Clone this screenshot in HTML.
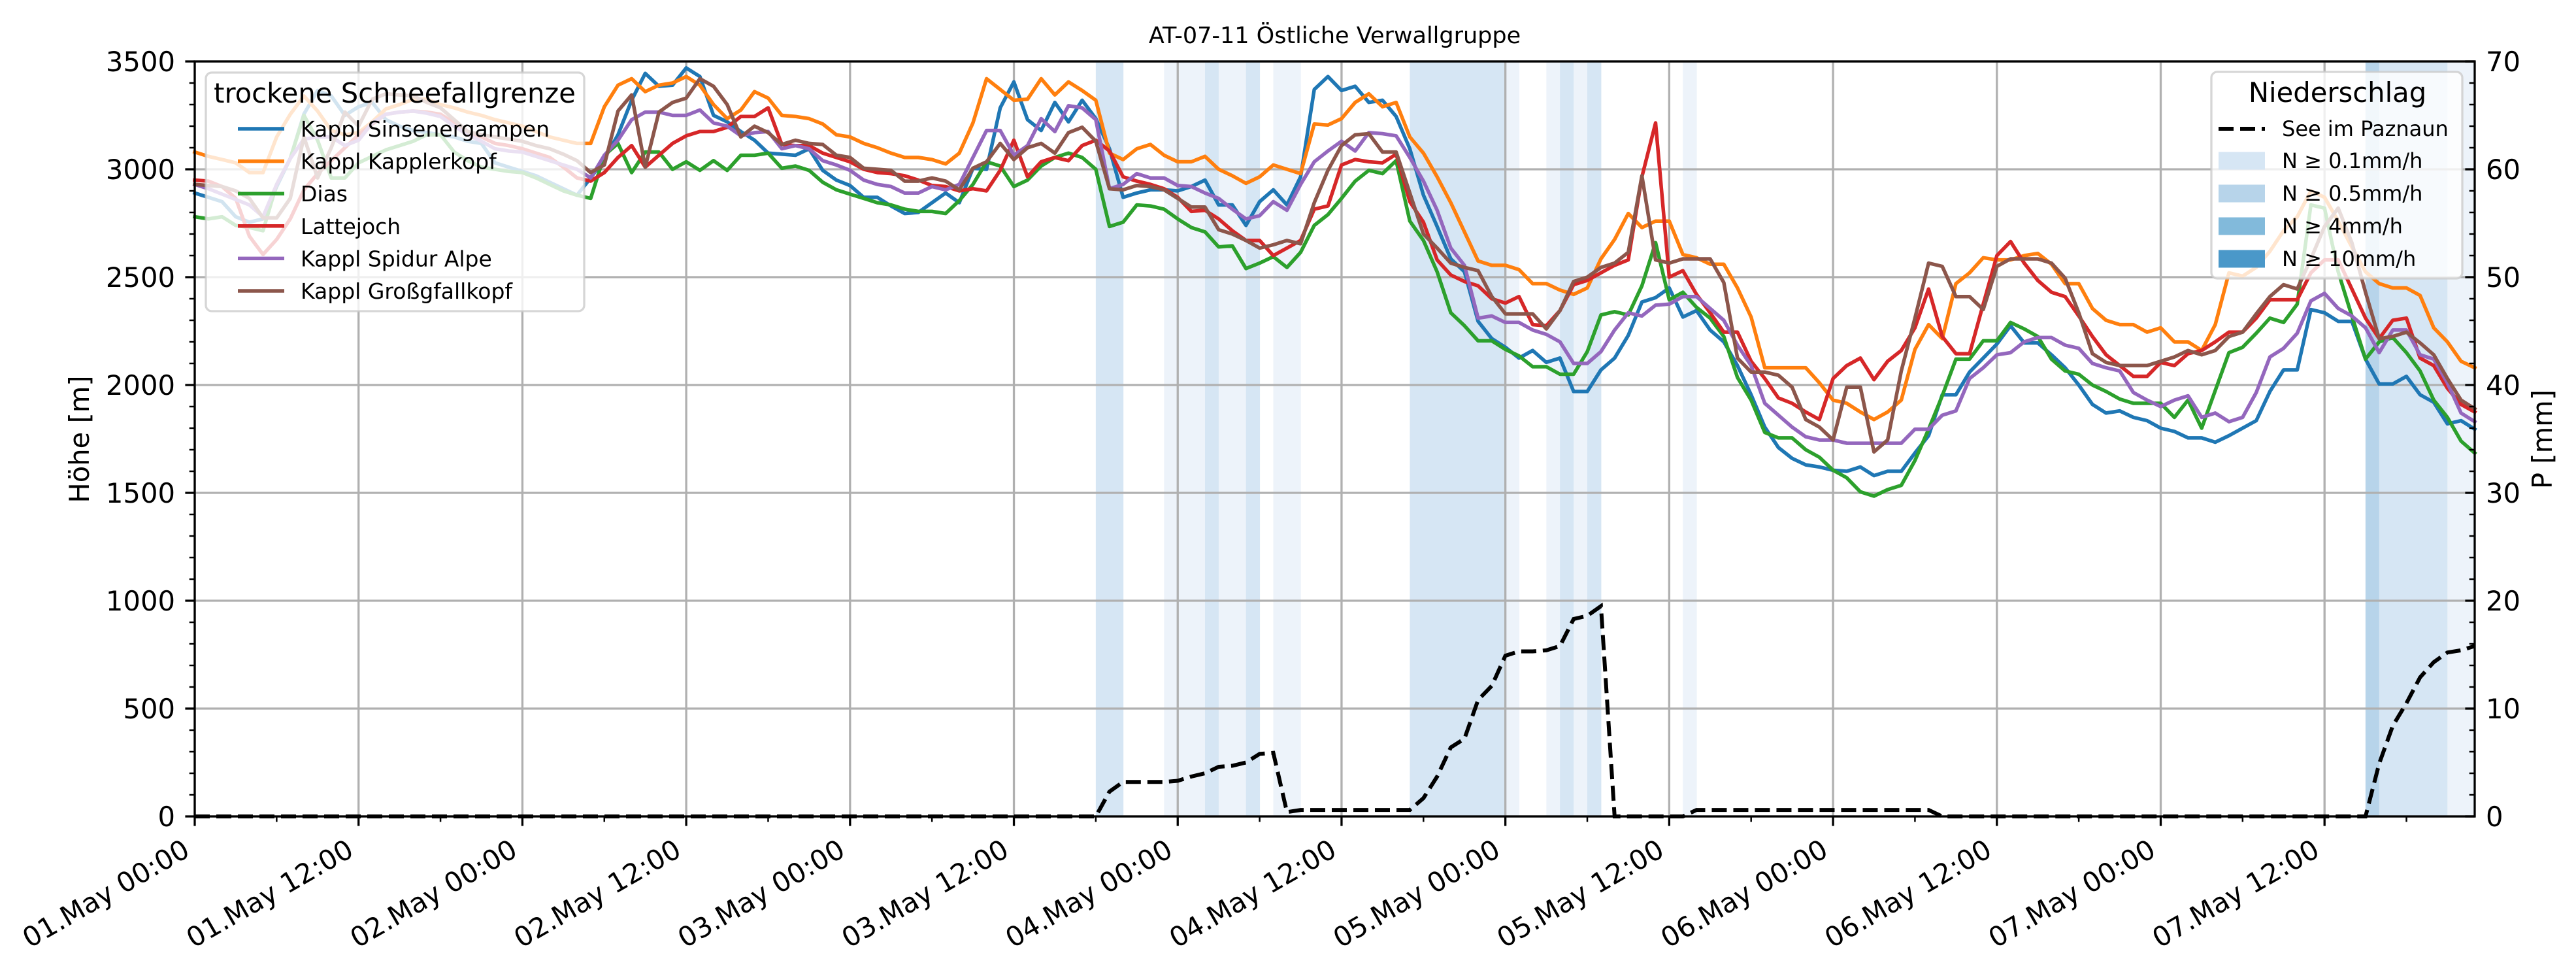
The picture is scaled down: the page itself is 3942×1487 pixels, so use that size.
<!DOCTYPE html>
<html><head><meta charset="utf-8"><title>AT-07-11 Östliche Verwallgruppe</title>
<style>html,body{margin:0;padding:0;background:#fff}svg{display:block}text{font-family:"DejaVu Sans","Liberation Sans",sans-serif;fill:#000}</style>
</head><body>
<svg id="chart" xmlns="http://www.w3.org/2000/svg" width="3942" height="1487" viewBox="0 0 3942 1487">
<rect x="0" y="0" width="3942" height="1487" fill="#fff"/>
<g id="bars"></g>
<g id="grid"></g>
<g id="lines"></g>
<g id="axes"></g>
<g id="legends"></g>
</svg>
<script>
const categoriesHours = 168;
const xTickLabels = ["01.May 00:00","01.May 12:00","02.May 00:00","02.May 12:00","03.May 00:00","03.May 12:00","04.May 00:00","04.May 12:00","05.May 00:00","05.May 12:00","06.May 00:00","06.May 12:00","07.May 00:00","07.May 12:00"];
const yTicksLeft = [0,500,1000,1500,2000,2500,3000,3500];
const yTicksRight = [0,10,20,30,40,50,60,70];
const seriesNames = ["Kappl Sinsenergampen","Kappl Kapplerkopf","Dias","Lattejoch","Kappl Spidur Alpe","Kappl Großgfallkopf"];
const sinsenergampen = [2890,2870,2850,2780,2755,2770,2920,3050,3256,3365,3340,3250,3290,3310,3230,3200,3180,3170,3160,3150,3130,3120,3030,3010,2990,2970,2940,2910,2880,2960,3050,3160,3320,3445,3385,3390,
3470,3430,3250,3220,3175,3135,3075,3070,3065,3095,2995,2950,2925,2870,2870,2830,2795,2800,2845,2890,2845,3005,3000,3285,3405,3230,3180,3310,3220,3320,3235,3095,2870,2890,2905,2905,2900,
2920,2950,2835,2835,2740,2850,2905,2835,2965,3370,3430,3365,3385,3310,3320,3245,3095,2880,2735,2585,2525,2295,2215,2175,2125,2160,2105,2125,1970,1970,2070,2125,2230,2385,2405,2450,
2315,2345,2255,2200,2090,1955,1805,1710,1660,1630,1620,1605,1600,1620,1580,1600,1600,1685,1765,1955,1955,2060,2125,
2190,2275,2195,2195,2140,2080,2000,1910,1870,1880,1850,1835,1800,1785,1755,1755,1735,1765,1800,1835,1970,2070,2070,2350,2335,2295,2295,2120,2005,2005,2040,1955,1920,1820,1835,1795];
const kapplerkopf = [3080,3060,3045,3030,2985,2985,3150,3255,3340,3270,3180,3160,3170,3220,3280,3300,3325,3325,3300,3285,3265,3250,3230,3215,3200,3175,3150,3135,3120,3120,3290,3390,3420,3360,3390,3400,
3430,3390,3300,3235,3275,3360,3330,3250,3245,3235,3210,3160,3150,3120,3100,3075,3055,3055,3045,3025,3075,3215,3420,3370,3320,3325,3420,3345,3405,3365,3320,3075,3045,3095,3115,3065,3035,
3035,3060,3000,2970,2935,2965,3020,3000,2980,3210,3205,3235,3310,3350,3290,3310,3150,3075,2965,2845,2710,2575,2555,2555,2535,2470,2470,2440,2420,2450,2585,2675,2795,2730,2760,2760,
2605,2590,2560,2560,2450,2315,2080,2080,2080,2080,2010,1930,1915,1875,1840,1875,1930,2165,2280,2215,2470,2520,2590,
2580,2580,2600,2610,2560,2470,2470,2355,2300,2280,2280,2245,2265,2200,2200,2160,2280,2520,2505,2545,2620,2715,2780,2900,2870,2760,2640,2525,2470,2450,2450,2415,2265,2200,2110,2080];
const dias = [2780,2770,2780,2740,2730,2715,2930,3050,3250,3135,2960,2960,3030,3060,3090,3110,3130,3160,3160,3080,3040,3010,3000,2990,2985,2960,2930,2900,2880,2865,3065,3120,2985,3080,3080,3000,
3035,2995,3040,2995,3065,3065,3075,3005,3015,2995,2940,2905,2885,2865,2845,2835,2815,2805,2805,2795,2855,2930,3035,3015,2920,2950,3015,3055,3075,3055,3000,2735,2755,2835,2830,2815,2770,
2730,2710,2640,2645,2540,2565,2595,2545,2615,2740,2790,2865,2945,2995,2980,3040,2760,2670,2525,2335,2275,2205,2205,2165,2135,2085,2085,2050,2050,2155,2325,2340,2325,2460,2660,2395,
2430,2360,2310,2225,2035,1930,1780,1755,1755,1700,1665,1605,1570,1505,1485,1515,1535,1650,1795,1950,2120,2120,2205,
2205,2290,2260,2225,2120,2065,2050,2000,1970,1935,1915,1915,1915,1850,1930,1800,1975,2150,2175,2240,2310,2290,2375,2835,2820,2525,2320,2120,2200,2220,2150,2065,1930,1850,1740,1685];
const lattejoch = [2950,2945,2920,2865,2690,2605,2675,2770,2905,2980,3040,3100,3160,3210,3255,3265,3270,3265,3255,3215,3175,3150,3120,3110,3095,3075,3055,3010,2960,2945,2985,3055,3110,3010,3065,3120,
3155,3175,3175,3195,3245,3245,3285,3115,3110,3110,3075,3055,3035,3000,2985,2980,2970,2950,2925,2920,2900,2910,2900,2995,3135,2965,3035,3055,3040,3110,3135,3085,2965,2945,2930,2910,2870,
2805,2810,2770,2715,2670,2670,2600,2635,2670,2815,2830,3020,3045,3035,3030,3070,2850,2755,2580,2510,2480,2460,2400,2380,2410,2280,2275,2345,2465,2485,2520,2555,2580,2965,3215,2500,
2530,2420,2335,2245,2245,2110,2030,1940,1915,1875,1840,2030,2090,2125,2025,2110,2160,2265,2445,2225,2145,2145,2375,
2600,2665,2565,2485,2430,2410,2320,2225,2140,2090,2040,2040,2105,2090,2145,2160,2200,2245,2245,2310,2395,2395,2395,2520,2580,2580,2445,2310,2215,2300,2310,2125,2090,1985,1910,1875];
const spidurAlpe = [2930,2910,2885,2860,2835,2780,2930,3050,3140,3150,3150,3110,3135,3215,3255,3265,3270,3260,3245,3200,3160,3130,3095,3085,3080,3060,3040,3020,3000,2960,3065,3135,3230,3265,3265,3250,
3250,3275,3215,3200,3155,3170,3175,3095,3110,3095,3040,3020,2995,2950,2930,2920,2890,2890,2920,2905,2930,3055,3180,3180,3065,3110,3235,3175,3295,3285,3230,2910,2930,2980,2960,2960,2925,
2920,2890,2865,2815,2770,2785,2850,2810,2930,3035,3085,3130,3085,3170,3165,3155,3055,2945,2810,2635,2555,2310,2320,2290,2290,2255,2235,2200,2100,2100,2155,2255,2335,2320,2370,2375,
2410,2410,2355,2300,2185,2090,1915,1860,1805,1760,1745,1745,1730,1730,1730,1730,1730,1795,1795,1860,1880,2030,2080,
2140,2150,2200,2220,2220,2185,2170,2100,2080,2065,1965,1930,1900,1930,1950,1850,1870,1830,1850,1965,2130,2170,2240,2390,2425,2355,2320,2265,2150,2255,2255,2140,2120,2010,1870,1830];
const grossgfallkopf = [2930,2925,2920,2900,2865,2775,2775,2865,3150,2960,3100,3265,3200,3325,3350,3345,3340,3310,3285,3230,3175,3160,3150,3140,3130,3110,3095,3070,3040,2985,3020,3270,3345,3010,3265,3310,
3330,3420,3385,3300,3150,3200,3170,3115,3135,3120,3115,3065,3055,3005,3000,2995,2945,2945,2960,2945,2905,3005,3035,3120,3045,3100,3120,3075,3170,3195,3130,2910,2905,2925,2920,2905,2865,
2825,2825,2720,2700,2670,2635,2650,2670,2655,2845,2995,3110,3160,3165,3080,3080,2890,2700,2635,2565,2545,2530,2410,2330,2330,2330,2260,2345,2480,2500,2545,2565,2615,2970,2580,2565,
2585,2585,2585,2475,2125,2060,2060,2045,1990,1840,1805,1745,1990,1990,1690,1745,2065,2310,2565,2550,2410,2410,2350,
2550,2585,2585,2585,2565,2495,2335,2145,2105,2090,2090,2090,2110,2130,2160,2140,2160,2225,2245,2330,2410,2465,2445,2585,2735,2820,2660,2430,2215,2225,2245,2195,2140,2030,1930,1890];
const precipSum = [0,0,0,0,0,0,0,0,0,0,0,0,0,0,0,0,0,0,0,0,0,0,0,0,0,0,0,0,0,0,0,0,0,0,0,0,0,0,0,0,0,0,0,0,0,0,0,0,0,0,0,0,0,0,0,0,0,0,0,0,0,0,0,0,0,0,0,
2.3,3.2,3.2,3.2,3.2,3.3,3.7,4.0,4.6,4.7,5.0,5.8,5.9,0.4,0.6,0.6,0.6,0.6,0.6,0.6,0.6,0.6,0.6,1.7,3.7,6.4,7.2,10.8,12.1,14.9,15.3,15.3,15.4,15.8,18.3,18.6,19.5,
0,0,0,0,0,0,0.6,0.6,0.6,0.6,0.6,0.6,0.6,0.6,0.6,0.6,0.6,0.6,0.6,0.6,0.6,0.6,0.6,0.6,
0,0,0,0,0,0,0,0,0,0,0,0,0,0,0,0,0,0,0,0,0,0,0,0,0,0,0,0,0,0,0,0,
4.9,8.4,10.5,12.9,14.3,15.2,15.4,15.8];
const precipRate = [0,0,0,0,0,0,0,0,0,0,0,0,0,0,0,0,0,0,0,0,0,0,0,0,0,0,0,0,0,0,0,0,0,0,0,0,0,0,0,0,0,0,0,0,0,0,0,0,0,0,0,0,0,0,0,0,0,0,0,0,0,0,0,0,0,0,
0.3,0.3,0,0,0,0.05,0.05,0.05,0.3,0.05,0.05,0.3,0,0.05,0.05,0,0,0,0,0,0,0,0,
0.3,0.3,0.3,0.3,0.3,0.3,0.3,0.05,0,0,0.05,0.3,0.05,0.3,0,0,0,0,0,0,0.05,
0,0,0,0,0,0,0,0,0,0,0,0,0,0,0,0,0,0,0,0,0,0,0,0,0,0,0,0,0,0,0,0,0,0,0,0,0,0,0,0,0,0,0,0,0,0,0,0,0,
1.0,0.3,0.3,0.3,0.3,0.3,0.05,0.05,0.05];
const rateThresholds = [0.1,0.5,4,10];
const rateLabels = ["N ≥ 0.1mm/h","N ≥ 0.5mm/h","N ≥ 4mm/h","N ≥ 10mm/h"];

const NS="http://www.w3.org/2000/svg";
const L=298,R=3787,T=94,B=1249;
const xs=h=>L+h*(R-L)/(categoriesHours-1);
const yL=m=>B-m*(B-T)/3500;
const yR=p=>B-p*(B-T)/70;
const colors=["#1f77b4","#ff7f0e","#2ca02c","#d62728","#9467bd","#8c564b"];
const rateColors=["#d6e6f4","#b7d4ea","#82badb","#4a98c9"];
function mk(tag,attrs,parent){const e=document.createElementNS(NS,tag);for(const k in attrs)e.setAttribute(k,attrs[k]);parent.appendChild(e);return e;}
function rateColor(r){let c="#edf3fa";for(let i=0;i<rateThresholds.length;i++)if(r>=rateThresholds[i])c=rateColors[i];return c;}

const gB=document.getElementById('bars'),gG=document.getElementById('grid'),gLn=document.getElementById('lines'),gA=document.getElementById('axes'),gLg=document.getElementById('legends');

// precipitation bands
precipRate.forEach((r,i)=>{
  if(r<=0)return;
  const x0=xs(i),x1=Math.min(xs(i+1),R);
  const el=mk('rect',{x:x0,y:T,width:Math.max(0,x1-x0)+0.5,height:B-T,fill:rateColor(r)},gB);
  
  
});

// grid
xTickLabels.forEach((lab,i)=>{const x=xs(i*12);const el=mk('line',{x1:x,x2:x,y1:T,y2:B,stroke:'#b0b0b0','stroke-width':3.3},gG);
  });
yTicksLeft.forEach(v=>{const y=yL(v);const el=mk('line',{x1:L,x2:R,y1:y,y2:y,stroke:'#b0b0b0','stroke-width':3.3},gG);
  });

// series
const allSeries=[sinsenergampen,kapplerkopf,dias,lattejoch,spidurAlpe,grossgfallkopf];
allSeries.forEach((s,k)=>{
  const d=s.map((v,i)=>(i?'L':'M')+xs(i).toFixed(1)+','+yL(v).toFixed(1)).join(' ');
  const el=mk('path',{d:d,fill:'none',stroke:colors[k],'stroke-width':5.5,'stroke-linejoin':'round','stroke-linecap':'square'},gLn);
  
  
});
{
  const d=precipSum.map((v,i)=>(i?'L':'M')+xs(i).toFixed(1)+','+yR(v).toFixed(1)).join(' ');
  const el=mk('path',{d:d,fill:'none',stroke:'#000','stroke-width':6,'stroke-dasharray':'23 10'},gLn);
  
  
}

// axes spines
const sp=mk('rect',{x:L,y:T,width:R-L,height:B-T,fill:'none',stroke:'#000','stroke-width':3.3},gA);


// x ticks
for(let h=0;h<categoriesHours;h+=6){const x=xs(h);const major=h%12===0;
  const el=mk('line',{x1:x,x2:x,y1:B,y2:B+(major?14.6:8.3),stroke:'#000','stroke-width':major?3.3:2.5},gA);
  }
xTickLabels.forEach((lab,i)=>{const x=xs(i*12)-5,y=1308;
  const t=mk('text',{x:x,y:y,'font-size':41.7,'text-anchor':'end',transform:`rotate(-30 ${x} ${y})`},gA);t.textContent=lab;
  });

// left y ticks
for(let v=0;v<=3500;v+=100){const y=yL(v);const major=v%500===0;
  const el=mk('line',{x1:L,x2:L-(major?14.6:8.3),y1:y,y2:y,stroke:'#000','stroke-width':major?3.3:2.5},gA);
  }
yTicksLeft.forEach(v=>{const t=mk('text',{x:268,y:yL(v)+15,'font-size':41.7,'text-anchor':'end'},gA);t.textContent=v;
  });

// right y ticks (inward)
for(let v=0;v<=70;v+=2){const y=yR(v);const major=v%10===0;
  const el=mk('line',{x1:R,x2:R-(major?14.6:8.3),y1:y,y2:y,stroke:'#000','stroke-width':major?3.3:2.5},gA);
  }
yTicksRight.forEach(v=>{const t=mk('text',{x:3804,y:yR(v)+15,'font-size':41.7,'text-anchor':'start'},gA);t.textContent=v;
  });
</script>
<script>
(function(){
const gA=document.getElementById('axes'),gLg=document.getElementById('legends');
function mk(tag,attrs,parent){const e=document.createElementNS("http://www.w3.org/2000/svg",tag);for(const k in attrs)e.setAttribute(k,attrs[k]);parent.appendChild(e);return e;}
let t=mk('text',{x:(298+3787)/2,y:66,'font-size':35,'text-anchor':'middle'},gA);t.textContent="AT-07-11 Östliche Verwallgruppe";

t=mk('text',{x:136,y:672,'font-size':41.7,'text-anchor':'middle',transform:'rotate(-90 136 672)'},gA);t.textContent="Höhe [m]";

t=mk('text',{x:3905,y:672,'font-size':41.7,'text-anchor':'middle',transform:'rotate(-90 3905 672)'},gA);t.textContent="P [mm]";


// left legend
const lg1=mk('g',{},gLg);
mk('rect',{x:315,y:111,width:579,height:365,rx:9,fill:'#fff','fill-opacity':0.8,stroke:'#cccccc','stroke-opacity':0.8,'stroke-width':3.3},lg1);
t=mk('text',{x:604,y:157,'font-size':41.7,'text-anchor':'middle'},lg1);t.textContent="trockene Schneefallgrenze";

seriesNames.forEach((n,k)=>{const y=197+k*49.6;
  const row=mk('g',{},lg1);
  
  mk('line',{x1:364,x2:435,y1:y,y2:y,stroke:colors[k],'stroke-width':5.5},row);
  const tx=mk('text',{x:460,y:y+12,'font-size':33},row);tx.textContent=n;});

// right legend
const lg2=mk('g',{},gLg);
mk('rect',{x:3384,y:110,width:384,height:316,rx:9,fill:'#fff','fill-opacity':0.8,stroke:'#cccccc','stroke-opacity':0.8,'stroke-width':3.3},lg2);
t=mk('text',{x:3577,y:156,'font-size':41.7,'text-anchor':'middle'},lg2);t.textContent="Niederschlag";

let row=mk('g',{},lg2);
mk('line',{x1:3395,x2:3466,y1:197,y2:197,stroke:'#000','stroke-width':6,'stroke-dasharray':'23 10'},row);
t=mk('text',{x:3492,y:208,'font-size':32},row);t.textContent="See im Paznaun";
rateLabels.forEach((lab,i)=>{const y=246+i*50;
  const r=mk('g',{},lg2);
  mk('rect',{x:3395,y:y-13.5,width:71,height:27,fill:rateColors[i]},r);
  const tx=mk('text',{x:3492,y:y+11,'font-size':32},r);tx.textContent=lab;});
})();
</script>
</body></html>
